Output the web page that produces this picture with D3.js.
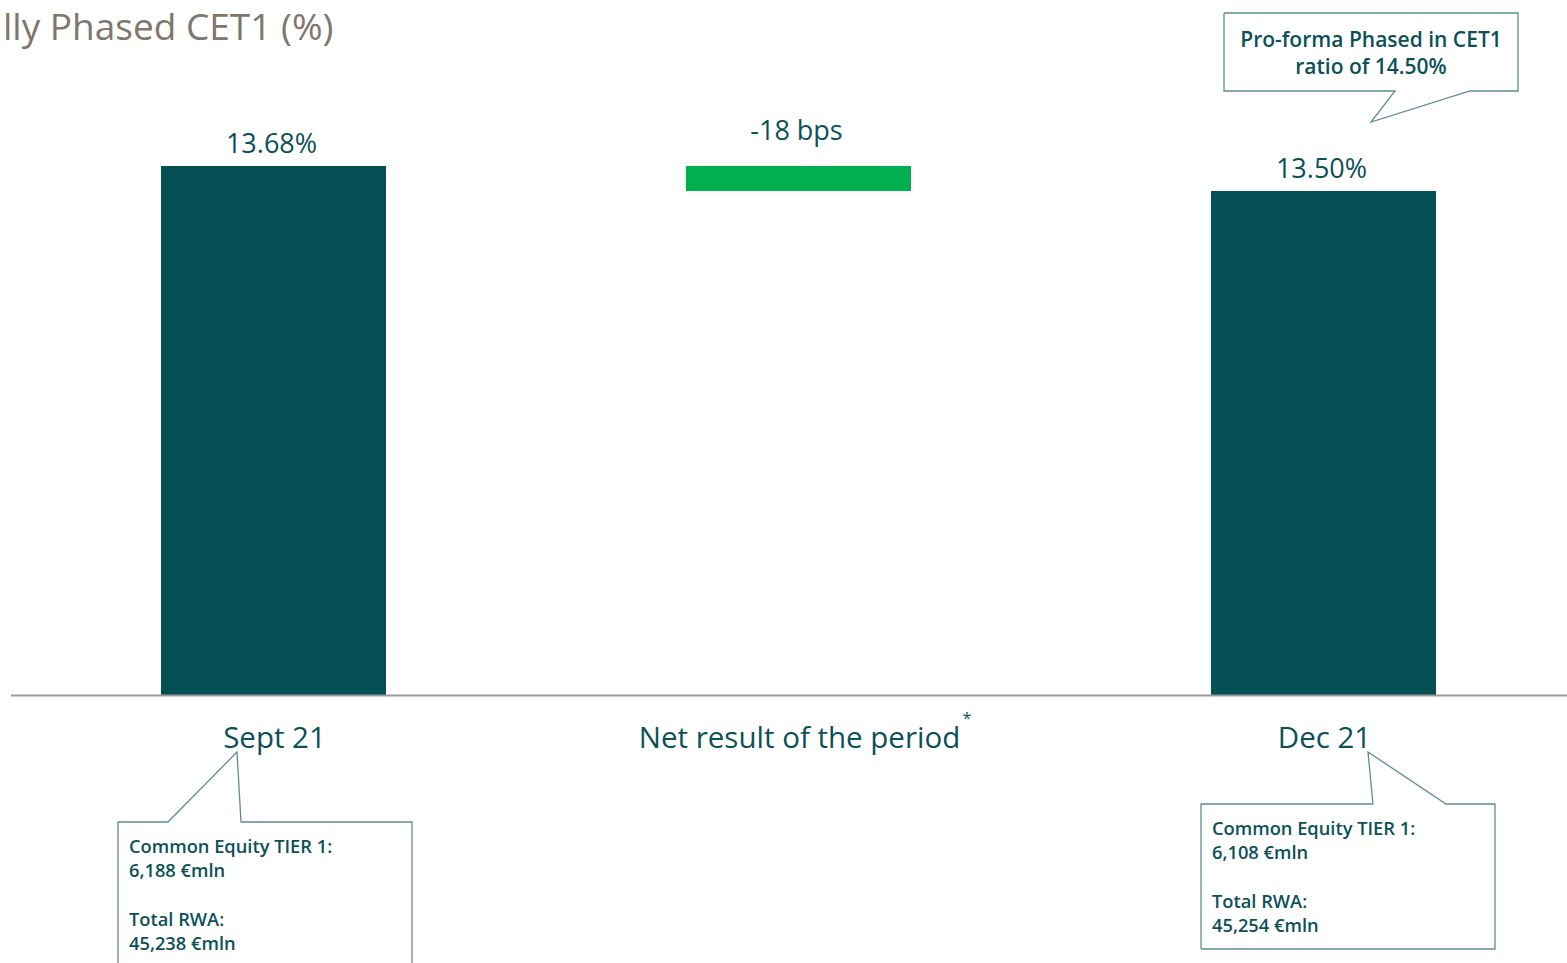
<!DOCTYPE html>
<html><head><meta charset="utf-8">
<script src="https://cdn.jsdelivr.net/npm/d3@7"></script>
<style>
html,body{margin:0;padding:0;background:#fff;}
svg{display:block;font-family:"Open Sans",sans-serif;}
</style></head>
<body>
<svg id="chart" width="1567" height="963"></svg>
<script>
const categories = ["Sept 21", "Net result of the period", "Dec 21"];
const values = [13.68, -0.18, 13.50];
const types = ["total", "delta", "total"];
const valueLabels = ["13.68%", "-18 bps", "13.50%"];
const titleText = "lly Phased CET1 (%)";
const noteTop = ["Pro-forma Phased in CET1", "ratio of 14.50%"];
const noteSept = ["Common Equity TIER 1:", "6,188 €mln", "", "Total RWA:", "45,238 €mln"];
const noteDec = ["Common Equity TIER 1:", "6,108 €mln", "", "Total RWA:", "45,254 €mln"];

const svg = d3.select("#chart");
const dark = "#034F54", green = "#00B050", textC = "#0B5157", boxC = "#5E8E91";

const x = d3.scaleBand().domain(categories).range([161, 1436]).paddingInner(0.5714).paddingOuter(0);
const y = d3.scaleLinear().domain([9.87, 13.68]).range([695, 166]);

let running = 0;
const segs = categories.map((c, i) => {
  let y0, y1;
  if (types[i] === "total") { y0 = y.domain()[0]; y1 = values[i]; running = values[i]; }
  else { y0 = running; y1 = running + values[i]; running = y1; }
  return {c, lo: Math.min(y0, y1), hi: Math.max(y0, y1), type: types[i], label: valueLabels[i]};
});

svg.append("text").attr("x", 3).attr("y", 40).attr("font-size", 37).attr("fill", "#80766E").text(titleText);

svg.selectAll("rect.bar").data(segs).join("rect").attr("class", "bar")
  .attr("x", d => x(d.c)).attr("width", x.bandwidth())
  .attr("y", d => y(d.hi)).attr("height", d => y(d.lo) - y(d.hi))
  .attr("fill", d => d.type === "total" ? dark : green);

svg.selectAll("text.vl").data(segs).join("text").attr("class", "vl")
  .attr("x", d => x(d.c) + x.bandwidth() / 2 - 2)
  .attr("y", d => y(d.hi) - (d.type === "total" ? 13 : 26))
  .attr("text-anchor", "middle").attr("font-size", 27).attr("font-weight", 500).attr("fill", textC)
  .text(d => d.label);

svg.append("line").attr("x1", 11).attr("x2", 1567).attr("y1", 695.5).attr("y2", 695.5)
  .attr("stroke", "#9a9a9a").attr("stroke-width", 2);

svg.selectAll("text.cat").data(categories).join("text").attr("class", "cat")
  .attr("x", d => x(d) + x.bandwidth() / 2 + 1).attr("y", 748)
  .attr("text-anchor", "middle").attr("font-size", 29.5).attr("fill", textC).text(d => d);
svg.append("text").attr("x", 967).attr("y", 724).attr("text-anchor", "middle")
  .attr("font-size", 16).attr("fill", textC).text("*");

function callout(pathPts, lines, tx, ty, lh, anchor) {
  svg.append("path").attr("d", d3.line()(pathPts)).attr("fill", "#fff")
    .attr("stroke", boxC).attr("stroke-width", 1.3);
  svg.append("g").selectAll("text").data(lines).join("text")
    .attr("x", tx).attr("y", (d, i) => ty + i * lh).attr("text-anchor", anchor)
    .attr("font-size", anchor === "middle" ? 21 : 18.3).attr("font-weight", 600).attr("fill", textC)
    .text(d => d);
}
callout([[1224,13],[1518,13],[1518,91],[1470,91],[1371,122],[1395,91],[1224,91],[1224,13]],
  noteTop, 1371, 47, 27, "middle");
callout([[118,975],[118,822],[168,822],[237,752],[241,822],[412,822],[412,975]],
  noteSept, 129, 853, 24.3, "start");
callout([[1201,949],[1201,804],[1373,804],[1368,752],[1446,804],[1495,804],[1495,949],[1201,949]],
  noteDec, 1212, 835, 24.3, "start");
</script>
</body></html>
